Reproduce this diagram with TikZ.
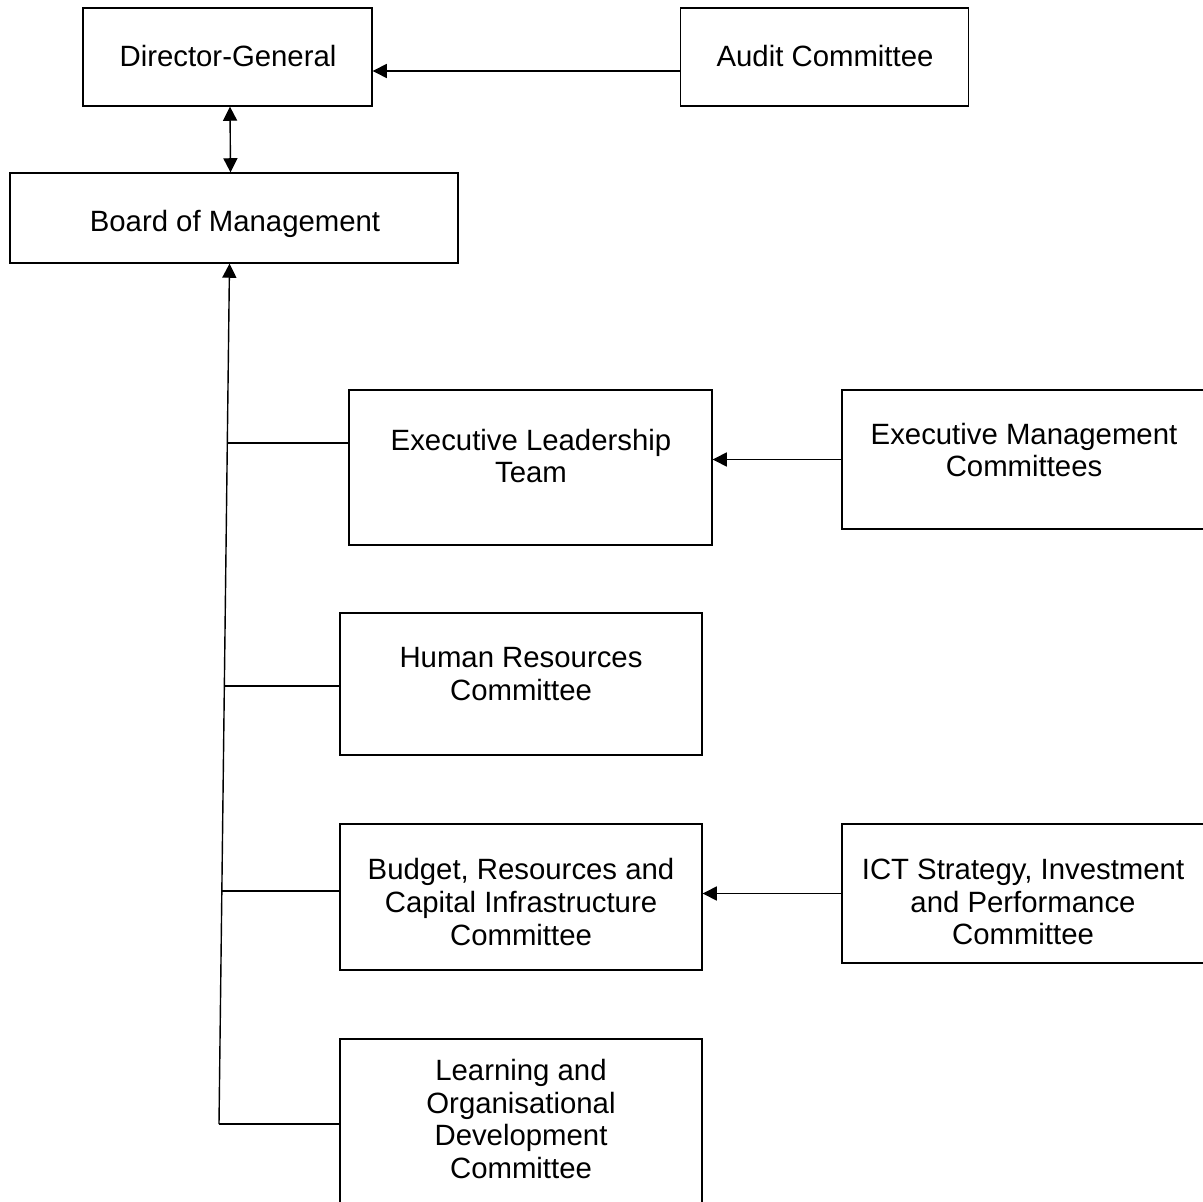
\documentclass[tikz,border=0pt]{standalone}
\usepackage{fontspec}
\setmainfont{Liberation Sans}
\usetikzlibrary{arrows.meta,calc,positioning}

\tikzset{
  box/.style 2 args={draw, line width=0.8pt, minimum width=#1*0.02cm, minimum height=#2*0.02cm, inner sep=0pt},
  lbl/.style={align=center, font=\fontsize{16.7}{18.6}\selectfont, inner sep=0pt},
  link/.style={line width=0.8pt},
}

\begin{document}
\begin{tikzpicture}[x=0.02cm, y=-0.02cm, >={Triangle[length=8pt,width=8pt]}]
\useasboundingbox (0,0) rectangle (1203,1202);
% boxes
\node[box={289}{98}] (dg) at (227.5,57) {};
\node[box={288}{98}] (aud) at (824.5,57) {};
\node[box={448}{90}] (bom) at (234,218) {};
\node[box={363}{155}] (elt) at (530.5,467.5) {};
\node[box={364}{139}] (emc) at (1024,459.5) {};
\node[box={362}{142}] (hr) at (521,684) {};
\node[box={362}{146}] (bud) at (521,897) {};
\node[box={364}{139}] (ict) at (1024,893.5) {};
\node[box={362}{170}] (lod) at (521,1124) {};
% labels
\node[lbl] (dg-t) at (228,56) {Director-General};
\node[lbl] (aud-t) at (825,56) {Audit Committee};
\node[lbl] (bom-t) at (235,224) {Board of Management};
\node[lbl] (elt-t) at (531,456) {Executive Leadership\\Team};
\node[lbl] (emc-t) at (1024,450) {Executive Management\\Committees};
\node[lbl] (hr-t) at (521,674) {Human Resources\\Committee};
\node[lbl] (bud-t) at (521,902) {Budget, Resources and\\Capital Infrastructure\\Committee};
\node[lbl] (ict-t) at (1023,902) {ICT Strategy, Investment\\and Performance\\Committee};
\node[lbl] (lod-t) at (521,1119) {Learning and\\Organisational\\Development\\Committee};
% top links
\draw[link,->] ($(aud.west)+(0,14)$) -- ($(dg.east)+(0,14)$);
\draw[link,<->] ($(dg.south)+(2.5,0)$) -- ($(bom.north)+(-3.5,0)$);
% spine
\coordinate (foot) at (219,1124);
\coordinate (j1) at (227.3,443);
\coordinate (j2) at (224.1,686);
\coordinate (j3) at (221.8,891);
\draw[link,->] (foot) -- ($(bom.south)+(-4.5,0)$);
\draw[link] (j1) -- (j1 -| elt.west);
\draw[link] (j2) -- (j2 -| hr.west);
\draw[link] (j3) -- (j3 -| bud.west);
\draw[link] (foot) -- (foot -| lod.west);
% side links
\draw[link,->] (emc.west) -- (emc.west -| elt.east);
\draw[link,->] (ict.west) -- (ict.west -| bud.east);
\end{tikzpicture}
\end{document}
